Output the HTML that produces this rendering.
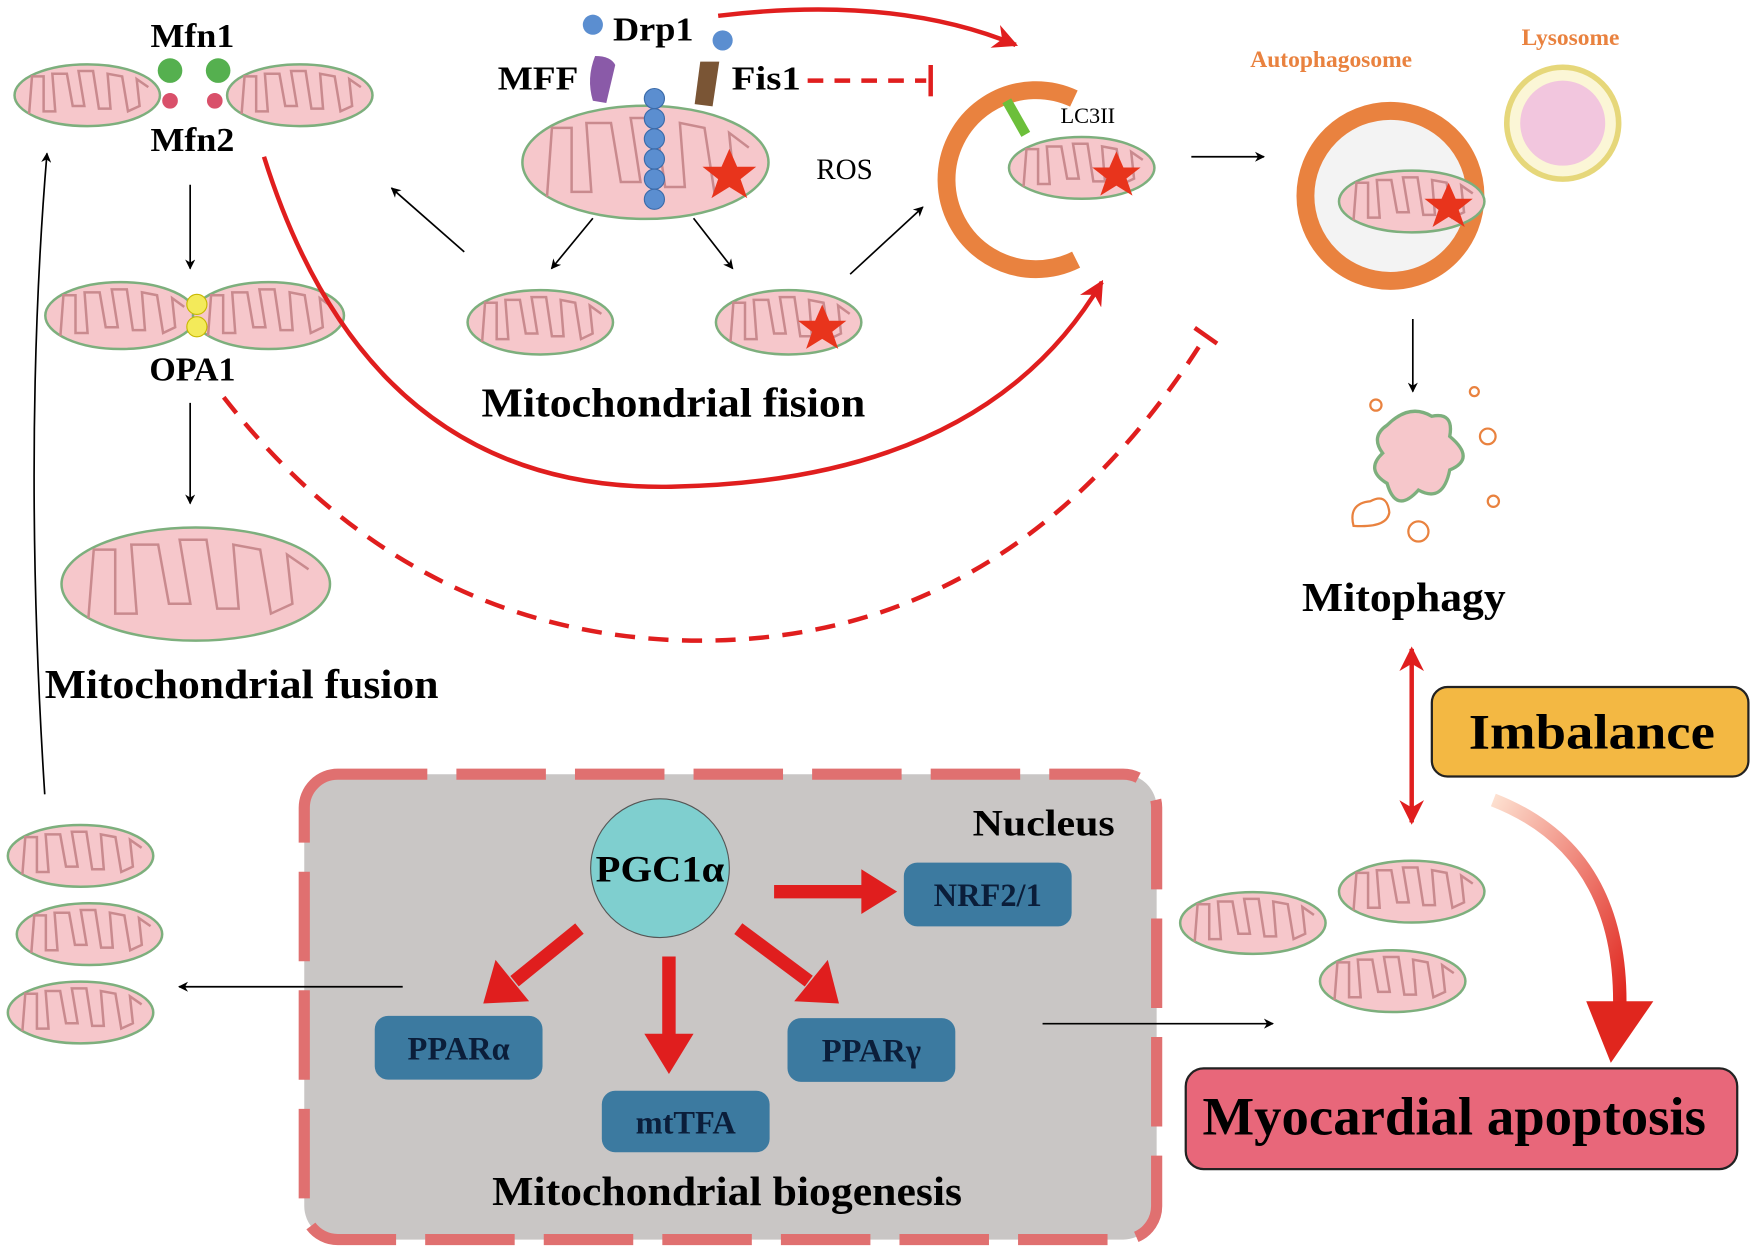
<!DOCTYPE html>
<html><head><meta charset="utf-8"><style>
html,body{margin:0;padding:0;background:#fff;}
svg{display:block;}
text{font-family:"Liberation Serif",serif;font-weight:bold;}
</style></head><body>
<svg width="1754" height="1252" viewBox="0 0 1568 1119" xmlns="http://www.w3.org/2000/svg">
<defs>
<g id="mito">
<ellipse cx="0" cy="0" rx="50" ry="23" fill="#f6c7cb" stroke="#7daf7d" stroke-width="2.5" vector-effect="non-scaling-stroke"/>
<path d="M-40,14 L-38,-14 L-30,-14 L-30,12 L-22,12 L-24,-16 L-14,-16 L-10,8 L-2,8 L-6,-18 L4,-18 L8,10 L16,10 L14,-16 L24,-14 L28,12 L36,8 L34,-12 L42,-6" fill="none" stroke="#c98a8e" stroke-width="2.5" vector-effect="non-scaling-stroke"/>
</g>
<marker id="ah" viewBox="0 0 10 10" refX="9" refY="5" markerWidth="9" markerHeight="9" orient="auto" markerUnits="userSpaceOnUse"><path d="M0,0 L10,5 L0,10 L3,5z" fill="#000"/></marker>
<marker id="ahr" viewBox="0 0 10 10" refX="9" refY="5" markerWidth="22" markerHeight="22" orient="auto" markerUnits="userSpaceOnUse"><path d="M0,0 L10,5 L0,10 L3,5z" fill="#e01e1e"/></marker>
<marker id="ahr2" viewBox="0 0 10 10" refX="9" refY="5" markerWidth="22" markerHeight="22" orient="auto-start-reverse" markerUnits="userSpaceOnUse"><path d="M0,0 L10,5 L0,10 L3,5z" fill="#e01e1e"/></marker>
<path id="star" d="M0,-22 L7,-6 L24,-6 L10,5 L16,22 L0,12 L-16,22 L-10,5 L-24,-6 L-7,-6z" fill="#e8341c"/>
<linearGradient id="gr" x1="0" y1="0" x2="1" y2="1"><stop offset="0" stop-color="#fde0d0"/><stop offset="1" stop-color="#e0261e"/></linearGradient>
</defs>

<!-- fusion top -->
<use href="#mito" transform="translate(78,85) scale(1.3,1.2)"/>
<use href="#mito" transform="translate(268,85) scale(1.3,1.2)"/>
<circle cx="152" cy="63" r="11" fill="#55b04f"/><circle cx="195" cy="63" r="11" fill="#55b04f"/>
<circle cx="152" cy="90" r="7" fill="#d9506a"/><circle cx="192" cy="90" r="7" fill="#d9506a"/>
<text x="172" y="42" font-size="30" text-anchor="middle" textLength="75" lengthAdjust="spacingAndGlyphs">Mfn1</text>
<text x="172" y="135" font-size="30" text-anchor="middle" textLength="75" lengthAdjust="spacingAndGlyphs">Mfn2</text>
<line x1="170" y1="165" x2="170" y2="240" stroke="#000" stroke-width="1.5" marker-end="url(#ah)"/>
<use href="#mito" transform="translate(108,282) scale(1.35,1.3)"/>
<use href="#mito" transform="translate(240,282) scale(1.35,1.3)"/>
<circle cx="176" cy="272" r="9" fill="#f3ea5a" stroke="#c8b800"/><circle cx="176" cy="292" r="9" fill="#f3ea5a" stroke="#c8b800"/>
<text x="172" y="340" font-size="30" text-anchor="middle" textLength="77" lengthAdjust="spacingAndGlyphs">OPA1</text>
<line x1="170" y1="360" x2="170" y2="450" stroke="#000" stroke-width="1.5" marker-end="url(#ah)"/>
<use href="#mito" transform="translate(175,522) scale(2.4,2.2)"/>
<text x="216" y="624" font-size="37" text-anchor="middle" textLength="352" lengthAdjust="spacingAndGlyphs">Mitochondrial fusion</text>
<path d="M40,710 Q20,400 42,137" fill="none" stroke="#000" stroke-width="1.5" marker-end="url(#ah)"/>

<!-- fission -->
<use href="#mito" transform="translate(577,145) scale(2.2,2.2)"/>
<path d="M532,50 Q546,50 550,58 L542,92 L530,90 Q524,70 532,50z" fill="#8a5aa8"/>
<path d="M626,55 L643,55 L637,95 L621,93z" fill="#7a5535"/>
<circle cx="530" cy="22" r="9" fill="#5b8ed0"/><circle cx="646" cy="36" r="9" fill="#5b8ed0"/>
<g fill="#5b8ed0" stroke="#3a6aa8">
<circle cx="585" cy="88" r="9"/><circle cx="585" cy="106" r="9"/><circle cx="585" cy="124" r="9"/><circle cx="585" cy="142" r="9"/><circle cx="585" cy="160" r="9"/><circle cx="585" cy="178" r="9"/></g>
<use href="#star" transform="translate(652,155)"/>
<text x="584" y="36" font-size="30" text-anchor="middle" textLength="72" lengthAdjust="spacingAndGlyphs">Drp1</text>
<text x="481" y="80" font-size="30" text-anchor="middle" textLength="72" lengthAdjust="spacingAndGlyphs">MFF</text>
<text x="685" y="80" font-size="30" text-anchor="middle" textLength="62" lengthAdjust="spacingAndGlyphs">Fis1</text>
<text x="755" y="160" font-size="26" text-anchor="middle" style="font-weight:normal">ROS</text>
<line x1="530" y1="195" x2="493" y2="240" stroke="#000" stroke-width="1.5" marker-end="url(#ah)"/>
<line x1="620" y1="195" x2="655" y2="240" stroke="#000" stroke-width="1.5" marker-end="url(#ah)"/>
<line x1="415" y1="225" x2="350" y2="168" stroke="#000" stroke-width="1.5" marker-end="url(#ah)"/>
<line x1="760" y1="245" x2="825" y2="185" stroke="#000" stroke-width="1.5" marker-end="url(#ah)"/>
<use href="#mito" transform="translate(483,288) scale(1.3,1.25)"/>
<use href="#mito" transform="translate(705,288) scale(1.3,1.25)"/>
<use href="#star" transform="translate(735,292) scale(0.9)"/>
<text x="602" y="372" font-size="37" text-anchor="middle" textLength="343" lengthAdjust="spacingAndGlyphs">Mitochondrial fision</text>

<!-- red lines -->
<path d="M642,14 Q800,-5 908,40" fill="none" stroke="#e01e1e" stroke-width="4" marker-end="url(#ahr)"/>
<line x1="722" y1="72" x2="828" y2="72" stroke="#e01e1e" stroke-width="4" stroke-dasharray="14,10"/>
<line x1="832" y1="58" x2="832" y2="86" stroke="#e01e1e" stroke-width="4"/>
<path d="M236,140 Q330,440 600,435 Q880,430 985,252" fill="none" stroke="#e01e1e" stroke-width="4" marker-end="url(#ahr)"/>
<path d="M200,355 Q360,560 600,572 Q900,585 1078,300" fill="none" stroke="#e01e1e" stroke-width="4" stroke-dasharray="18,12"/>
<line x1="1068" y1="293" x2="1088" y2="307" stroke="#e01e1e" stroke-width="4"/>

<!-- phagophore -->
<path d="M960,88 A80,80 0 1 0 962,232" fill="none" stroke="#e9823f" stroke-width="16"/>
<line x1="900" y1="90" x2="917" y2="120" stroke="#6cbf3a" stroke-width="9"/>
<text x="948" y="110" font-size="20" style="font-weight:normal">LC3II</text>
<use href="#mito" transform="translate(967,150) scale(1.3,1.2)"/>
<use href="#star" transform="translate(998,155) scale(0.9)"/>
<line x1="1065" y1="140" x2="1130" y2="140" stroke="#000" stroke-width="1.5" marker-end="url(#ah)"/>

<!-- autophagosome -->
<circle cx="1243" cy="175" r="76" fill="#f3f3f3" stroke="#e9823f" stroke-width="16"/>
<use href="#mito" transform="translate(1262,180) scale(1.3,1.2)"/>
<use href="#star" transform="translate(1295,183) scale(0.9)"/>
<circle cx="1397" cy="110" r="50" fill="#fbf6d6" stroke="#e6d77a" stroke-width="5"/>
<circle cx="1397" cy="110" r="38" fill="#f2c6de"/>
<text x="1190" y="60" font-size="21" fill="#e9823f" text-anchor="middle">Autophagosome</text>
<text x="1404" y="40" font-size="21" fill="#e9823f" text-anchor="middle">Lysosome</text>
<line x1="1263" y1="285" x2="1263" y2="350" stroke="#000" stroke-width="1.5" marker-end="url(#ah)"/>
<path d="M1240,380 Q1260,360 1280,372 Q1300,368 1296,390 Q1320,410 1296,420 Q1290,450 1268,438 Q1248,460 1240,432 Q1220,420 1236,405 Q1225,390 1240,380z" fill="#f6c7cb" stroke="#7daf7d" stroke-width="3"/>
<g fill="none" stroke="#e9823f" stroke-width="2">
<circle cx="1230" cy="362" r="5"/><circle cx="1318" cy="350" r="4"/><circle cx="1330" cy="390" r="7"/><circle cx="1335" cy="448" r="5"/><circle cx="1268" cy="475" r="9"/>
<path d="M1210,470 Q1205,450 1225,448 Q1240,440 1242,458 Q1240,472 1210,470z"/></g>
<text x="1255" y="546" font-size="37" text-anchor="middle" textLength="182" lengthAdjust="spacingAndGlyphs">Mitophagy</text>
<line x1="1262" y1="580" x2="1262" y2="735" stroke="#e01e1e" stroke-width="4" marker-end="url(#ahr)" marker-start="url(#ahr2)"/>

<rect x="1280" y="614" width="283" height="80" rx="14" fill="#f3b843" stroke="#222" stroke-width="2"/>
<text x="1423" y="669" font-size="44" text-anchor="middle" textLength="220" lengthAdjust="spacingAndGlyphs">Imbalance</text>
<path d="M1335,715 Q1450,760 1448,900" fill="none" stroke="url(#gr)" stroke-width="12"/>
<path d="M1418,895 L1478,895 L1440,950z" fill="#e0261e"/>

<!-- nucleus -->
<rect x="272" y="692" width="762" height="416" rx="30" fill="#c9c6c5" stroke="#e07070" stroke-width="10" stroke-dasharray="80,26"/>
<text x="933" y="747" font-size="33" text-anchor="middle" textLength="127" lengthAdjust="spacingAndGlyphs">Nucleus</text>
<circle cx="590" cy="776" r="62" fill="#7fcfcf" stroke="#555" stroke-width="1"/>
<text x="590" y="788" font-size="33" text-anchor="middle" textLength="115" lengthAdjust="spacingAndGlyphs">PGC1α</text>
<g fill="#3c7aa0">
<rect x="808" y="771" width="150" height="57" rx="12"/>
<rect x="335" y="908" width="150" height="57" rx="12"/>
<rect x="538" y="975" width="150" height="55" rx="12"/>
<rect x="704" y="910" width="150" height="57" rx="12"/>
</g>
<g font-size="29" text-anchor="middle" fill="#0b1e3a">
<text x="883" y="810">NRF2/1</text>
<text x="410" y="947">PPARα</text>
<text x="613" y="1013">mtTFA</text>
<text x="779" y="949">PPARγ</text>
</g>
<g stroke="#e01e1e" stroke-width="12" fill="none">
<line x1="692" y1="797" x2="772" y2="797"/>
<line x1="518" y1="830" x2="460" y2="877"/>
<line x1="598" y1="855" x2="598" y2="927"/>
<line x1="660" y1="830" x2="723" y2="877"/>
</g>
<g fill="#e01e1e">
<polygon points="770,777 802,797 770,817"/>
<polygon points="473,895 443,858 432,897"/>
<polygon points="576,924 620,924 598,960"/>
<polygon points="710,895 740,858 750,897"/>
</g>
<text x="650" y="1077" font-size="37" text-anchor="middle" textLength="420" lengthAdjust="spacingAndGlyphs">Mitochondrial biogenesis</text>

<use href="#mito" transform="translate(72,765) scale(1.3,1.2)"/>
<use href="#mito" transform="translate(80,835) scale(1.3,1.2)"/>
<use href="#mito" transform="translate(72,905) scale(1.3,1.2)"/>
<line x1="360" y1="882" x2="160" y2="882" stroke="#000" stroke-width="1.5" marker-end="url(#ah)"/>
<line x1="932" y1="915" x2="1138" y2="915" stroke="#000" stroke-width="1.5" marker-end="url(#ah)"/>
<use href="#mito" transform="translate(1120,825) scale(1.3,1.2)"/>
<use href="#mito" transform="translate(1262,797) scale(1.3,1.2)"/>
<use href="#mito" transform="translate(1245,877) scale(1.3,1.2)"/>

<rect x="1060" y="955" width="493" height="90" rx="16" fill="#e8677a" stroke="#222" stroke-width="2"/>
<text x="1300" y="1014" font-size="48" text-anchor="middle" textLength="450" lengthAdjust="spacingAndGlyphs">Myocardial apoptosis</text>
</svg>
</body></html>
